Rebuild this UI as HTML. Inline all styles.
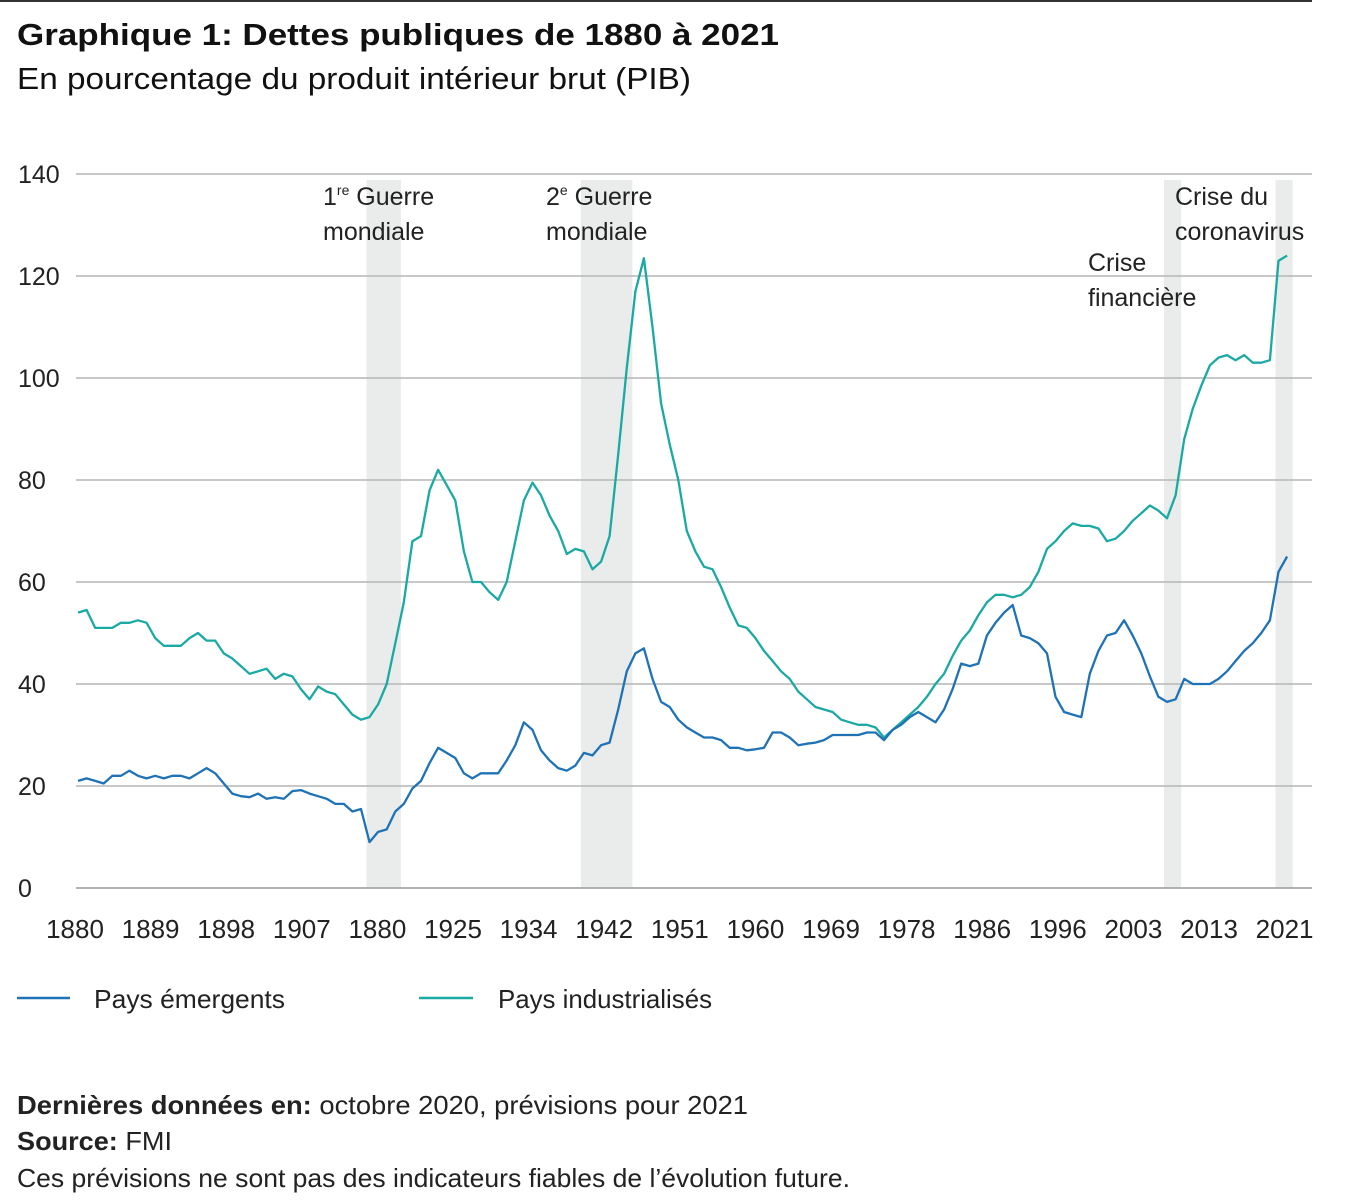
<!DOCTYPE html>
<html><head><meta charset="utf-8"><style>
body{margin:0;background:#fff;}
svg{display:block;font-family:"Liberation Sans",sans-serif;}
</style></head><body>
<svg id="c" width="1352" height="1200" viewBox="0 0 1352 1200">
<line x1="0" y1="1" x2="1312" y2="1" stroke="#333" stroke-width="2"/>
<text x="17" y="45" font-size="31" font-weight="bold" fill="#111" textLength="762" lengthAdjust="spacingAndGlyphs">Graphique 1: Dettes publiques de 1880 à 2021</text>
<text x="17" y="89" font-size="31" fill="#111" textLength="674" lengthAdjust="spacingAndGlyphs">En pourcentage du produit intérieur brut (PIB)</text>
<g id="shades"></g><g id="grid"></g><g id="xt"></g><g id="lines"></g>
<g font-size="25" fill="#222">
<text x="323" y="205">1<tspan font-size="14" dy="-10">re</tspan><tspan dy="10"> Guerre</tspan></text>
<text x="323" y="240">mondiale</text>
<text x="546" y="205">2<tspan font-size="14" dy="-10">e</tspan><tspan dy="10"> Guerre</tspan></text>
<text x="546" y="240">mondiale</text>
<text x="1175" y="205">Crise du</text>
<text x="1175" y="240">coronavirus</text>
<text x="1088" y="271">Crise</text>
<text x="1088" y="306">financière</text>
</g>
<g font-size="26" fill="#222">
<line x1="17" y1="998" x2="70" y2="998" stroke="#1f72b6" stroke-width="2.5"/>
<text x="94" y="1008" textLength="191" lengthAdjust="spacingAndGlyphs">Pays émergents</text>
<line x1="419" y1="998" x2="473" y2="998" stroke="#1ba9a3" stroke-width="2.5"/>
<text x="498" y="1008" textLength="214" lengthAdjust="spacingAndGlyphs">Pays industrialisés</text>
<text x="17" y="1114" textLength="731" lengthAdjust="spacingAndGlyphs"><tspan font-weight="bold">Dernières données en:</tspan> octobre 2020, prévisions pour 2021</text>
<text x="17" y="1150" textLength="155" lengthAdjust="spacingAndGlyphs"><tspan font-weight="bold">Source:</tspan> FMI</text>
<text x="17" y="1187" textLength="833" lengthAdjust="spacingAndGlyphs">Ces prévisions ne sont pas des indicateurs fiables de l’évolution future.</text>
</g>
</svg>
<script>
const startYear = 1880;
const industrial = [54,54.5,51,51,51,52,52,52.5,52,49,47.5,47.5,47.5,49,50,48.5,48.5,46,45,43.5,42,42.5,43,41,42,41.5,39,37,39.5,38.5,38,36,34,33,33.5,36,40,48,56,68,69,78,82,79,76,66,60,60,58,56.5,60,68,76,79.5,77,73,70,65.5,66.5,66,62.5,64,69,85,102,117,123.5,110,95,87,80,70,66,63,62.5,59,55,51.5,51,49,46.5,44.5,42.5,41,38.5,37,35.5,35,34.5,33,32.5,32,32,31.5,29.5,31,32.5,34,35.5,37.5,40,42,45.5,48.5,50.5,53.5,56,57.5,57.5,57,57.5,59,62,66.5,68,70,71.5,71,71,70.5,68,68.5,70,72,73.5,75,74,72.5,77,88,94,98.5,102.5,104,104.5,103.5,104.5,103,103,103.5,123,124];
const emerging = [21,21.5,21,20.5,22,22,23,22,21.5,22,21.5,22,22,21.5,22.5,23.5,22.5,20.5,18.5,18,17.8,18.5,17.5,17.8,17.5,19,19.2,18.5,18,17.5,16.5,16.5,15,15.5,9,11,11.5,15,16.5,19.5,21,24.5,27.5,26.5,25.5,22.5,21.5,22.5,22.5,22.5,25,28,32.5,31,27,25,23.5,23,24,26.5,26,28,28.5,35,42.5,46,47,41,36.5,35.5,33,31.5,30.5,29.5,29.5,29,27.5,27.5,27,27.2,27.5,30.5,30.5,29.5,28,28.3,28.5,29,30,30,30,30,30.5,30.5,29,31,32,33.5,34.5,33.5,32.5,35,39,44,43.5,44,49.5,52,54,55.5,49.5,49,48,46,37.5,34.5,34,33.5,42,46.5,49.5,50,52.5,49.5,46,41.5,37.5,36.5,37,41,40,40,40,41,42.5,44.5,46.5,48,50,52.5,62,65];
const yTicks = [0,20,40,60,80,100,120,140];
const xTickLabels = ["1880","1889","1898","1907","1880","1925","1934","1942","1951","1960","1969","1978","1986","1996","2003","2013","2021"];
const shadeStart = [1914,1939,2007,2020];
const shadeEnd = [1918,1945,2009,2022];
const NS="http://www.w3.org/2000/svg";
const x = yr => 78 + (yr - startYear) * 8.575;
const y = v => 888 - v * 5.1;
function mk(tag, parent, attrs){const e=document.createElementNS(NS,tag);for(const k in attrs)e.setAttribute(k,attrs[k]);document.getElementById(parent).appendChild(e);return e;}
shadeStart.forEach((s,i)=>{
  const r=mk('rect','shades',{x:x(s)-3,y:180,width:x(shadeEnd[i])-x(s),height:708,fill:'#e9eceb'});
  
  
});
yTicks.forEach(t=>{
  const l=mk('line','grid',{x1:76,x2:1312,y1:y(t),y2:y(t),stroke:t===0?'#999':'#b5b5b5','stroke-width':1.5});
  
  
  const tx=mk('text','grid',{x:18,y:y(t)+9,'font-size':25,fill:'#222'});
  tx.textContent=t;
  
  
});
xTickLabels.forEach((lab,i)=>{
  const tx=mk('text','xt',{x:75+i*75.6,y:938,'font-size':26,fill:'#222','text-anchor':'middle'});
  tx.textContent=lab;
  
  
});
function line(data,color,name){
  const d=data.map((v,i)=>(i?'L':'M')+x(startYear+i).toFixed(1)+','+y(v).toFixed(1)).join('');
  const p=mk('path','lines',{d:d,fill:'none',stroke:color,'stroke-width':2.3,'stroke-linejoin':'round'});
  
  
}
line(industrial,'#1ba9a3','industrial-line');
line(emerging,'#1f72b6','emerging-line');
</script>
</body></html>
